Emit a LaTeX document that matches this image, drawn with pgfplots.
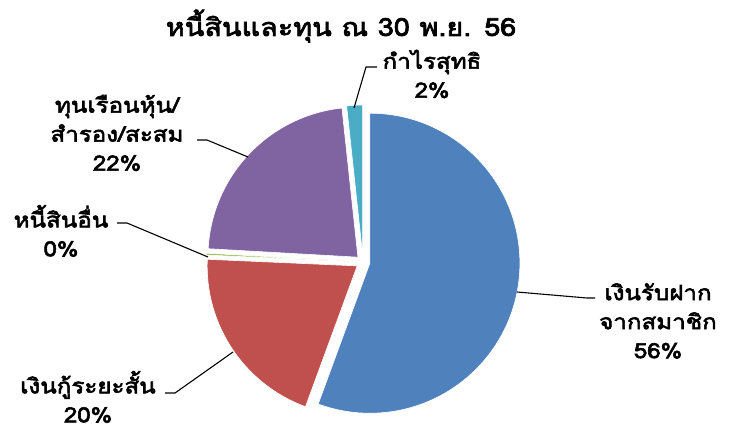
\documentclass[border=0pt]{standalone}
\usepackage{fontspec}
\usepackage{pgfplots}
\usepackage{pgfplotstable}
\pgfplotsset{compat=1.18}
\newfontfamily\thaifont[Script=Thai, FakeBold=2.8, FakeStretch=1.15]{Loma}
\definecolor{cBlue}{HTML}{4F81BD}
\definecolor{cRed}{HTML}{C0504D}
\definecolor{cGreen}{HTML}{9BBB59}
\definecolor{cPurple}{HTML}{8064A2}
\definecolor{cCyan}{HTML}{4BACC6}
\pgfplotstableread{
idx value
0 55.6
1 20.1
2 0.2
3 22.4
4 1.7
}\piedata
\begin{document}
\begin{tikzpicture}
% compute slice angles (clockwise from 90 deg)
\xdef\cum{90}
\foreach \i in {0,...,4}{
  \pgfplotstablegetelem{\i}{value}\of\piedata
  \pgfmathsetmacro\a{\cum}
  \pgfmathsetmacro\b{\cum-3.6*\pgfplotsretval}
  \pgfmathsetmacro\m{(\a+\b)/2}
  \expandafter\xdef\csname sa\i\endcsname{\a}
  \expandafter\xdef\csname sb\i\endcsname{\b}
  \expandafter\xdef\csname sm\i\endcsname{\m}
  \xdef\cum{\b}
}
\begin{axis}[
  width=735pt, height=432pt, scale only axis,
  xmin=0, xmax=735, ymin=0, ymax=432,
  enlargelimits=false, axis lines=none, clip=false,
]
\def\cx{363}\def\cy{170}\def\R{150}\def\D{7}
\pgfplotsinvokeforeach{0,...,4}{
  \pgfmathsetmacro\vx{\cx+\D*cos(\csname sm#1\endcsname)}
  \pgfmathsetmacro\vy{\cy+\D*sin(\csname sm#1\endcsname)}
  \pgfmathsetmacro\px{\vx+\R*cos(\csname sa#1\endcsname)}
  \pgfmathsetmacro\py{\vy+\R*sin(\csname sa#1\endcsname)}
  \edef\temp{\noexpand\filldraw[fill=\ifcase#1 cBlue\or cRed\or cGreen\or cPurple\or cCyan\fi, draw=white, line width=0.6pt]
    (axis cs:\vx,\vy) -- (axis cs:\px,\py) arc[start angle=\csname sa#1\endcsname, end angle=\csname sb#1\endcsname, radius=\R pt] -- cycle;}
  \temp
}
% title
\node[font=\thaifont\fontsize{25}{29}\selectfont, inner sep=0pt] at (axis cs:341,406) {หนี้สินและทุน ณ 30 พ.ย. 56};
% labels
\tikzset{lab/.style={font=\thaifont\fontsize{21}{29}\selectfont, align=center, inner sep=0pt}}
\node[lab] at (axis cs:658,111) {เงินรับฝาก\\จากสมาชิก\\56\%};
\node[lab] at (axis cs:88,35) {เงินกู้ระยะสั้น\\20\%};
\node[lab] at (axis cs:61,201) {หนี้สินอื่น\\0\%};
\node[lab] at (axis cs:117,299) {ทุนเรือนหุ้น/\\สำรอง/สะสม\\22\%};
\node[lab] at (axis cs:432,358) {กำไรสุทธิ\\2\%};
% leader lines
\tikzset{lead/.style={line width=1.1pt}}
\draw[lead] (axis cs:517,140) -- (axis cs:587,134) -- (axis cs:595,134);
\draw[lead] (axis cs:165,39) -- (axis cs:175,39) -- (axis cs:233,80);
\draw[lead] (axis cs:117,209) -- (axis cs:127,209) -- (axis cs:208,175);
\draw[lead] (axis cs:197,292) -- (axis cs:207,292) -- (axis cs:248,275);
\draw[lead] (axis cs:354,324) -- (axis cs:366,365) -- (axis cs:377,365);
\end{axis}
\pgfresetboundingbox
\path (0,0) rectangle (735pt,432pt);
\end{tikzpicture}
\end{document}
